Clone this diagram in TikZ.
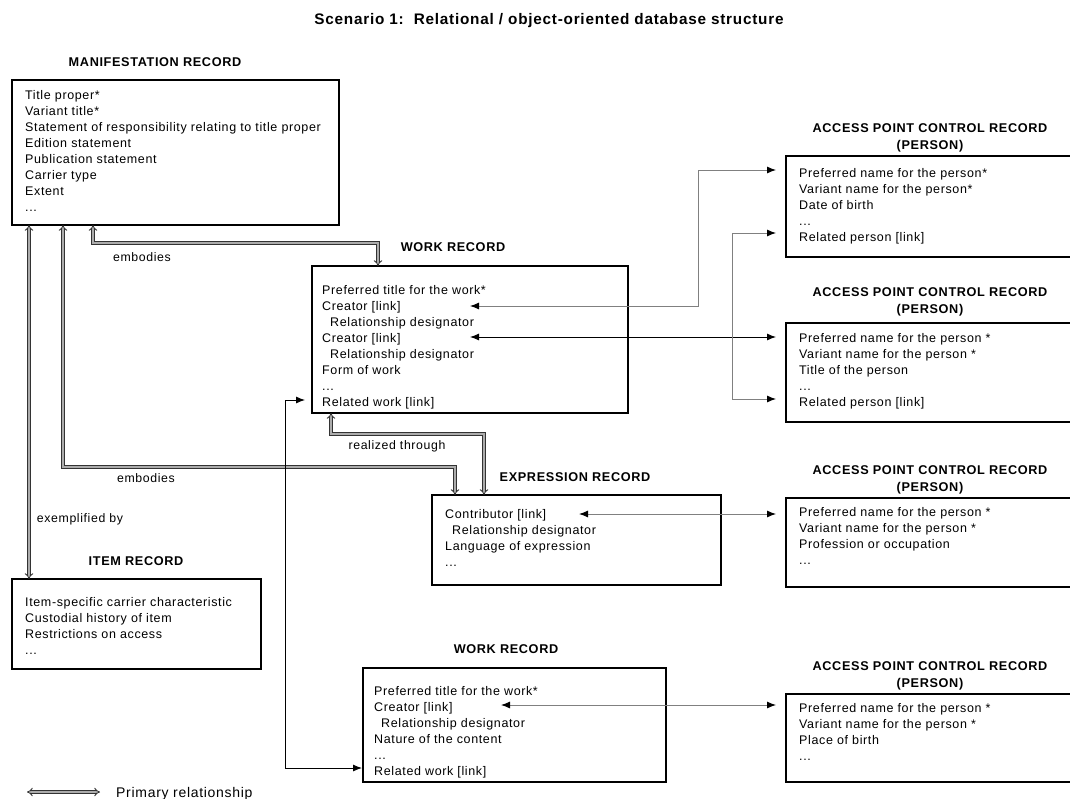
\documentclass[tikz,border=0pt]{standalone}
\usepackage{fontspec}
\setmainfont{Liberation Sans}[LetterSpace=5]
\usetikzlibrary{arrows.meta,calc}
\begin{document}
\begin{tikzpicture}[x=1pt,y=-1pt,
  box/.style={draw=black, line width=2pt, anchor=north west, inner sep=0pt, outer sep=0pt},
  txt/.style={anchor=north west, inner sep=0pt, align=left, font=\fontsize{12.5}{16}\selectfont},
  hdr/.style={inner sep=0pt, align=center, font=\fontsize{12.7}{17}\selectfont\bfseries},
  lbl/.style={inner sep=0pt, anchor=base, font=\fontsize{12.3}{15}\selectfont},
  prim/.style={draw=black!80, line width=0.9pt, double=gray!65, double distance=2pt, {Implies}-{Implies}},
  link/.style={line width=0.9pt, {Latex[length=9pt,width=7pt,color=black]}-{Latex[length=9pt,width=7pt,color=black]}},
  glink/.style={link, draw=black!50},
]
\useasboundingbox (0,0) rectangle (1070,799);
\clip (0,0) rectangle (1070,799);

% title
\node[hdr, anchor=base, font=\fontsize{15.3}{18}\selectfont\bfseries] (title) at (549,25) {Scenario 1:\ \ Relational / object-oriented database structure};

% headers
\node[hdr, anchor=base] (hman) at (155,66.5) {MANIFESTATION RECORD};
\node[hdr, anchor=base] (hwork1) at (453,251.5) {WORK RECORD};
\node[hdr, anchor=base] (hitem) at (136,565.5) {ITEM RECORD};
\node[hdr, anchor=base] (hexpr) at (575,481.5) {EXPRESSION RECORD};
\node[hdr, anchor=base] (hwork2) at (506,653.5) {WORK RECORD};
\node[hdr, anchor=north] (hap1) at (930,123.5) {ACCESS POINT CONTROL RECORD\\(PERSON)};
\node[hdr, anchor=north] (hap2) at (930,287.5) {ACCESS POINT CONTROL RECORD\\(PERSON)};
\node[hdr, anchor=north] (hap3) at (930,465.5) {ACCESS POINT CONTROL RECORD\\(PERSON)};
\node[hdr, anchor=north] (hap4) at (930,661.5) {ACCESS POINT CONTROL RECORD\\(PERSON)};

% boxes
\node[box, minimum width=327pt, minimum height=145pt] (man) at (12,80) {};
\node[box, minimum width=249pt, minimum height=90pt] (item) at (12,579) {};
\node[box, minimum width=316pt, minimum height=147pt] (work1) at (312,266) {};
\node[box, minimum width=289pt, minimum height=90pt] (expr) at (432,495) {};
\node[box, minimum width=303pt, minimum height=114pt] (work2) at (363,668) {};
\node[box, minimum width=320pt, minimum height=101pt] (ap1) at (786,156) {};
\node[box, minimum width=320pt, minimum height=99pt] (ap2) at (786,323) {};
\node[box, minimum width=320pt, minimum height=89pt] (ap3) at (786,498) {};
\node[box, minimum width=320pt, minimum height=88pt] (ap4) at (786,694) {};

% box contents
\node[txt] (tman) at (25,90.5) {Title proper*\\Variant title*\\Statement of responsibility relating to title proper\\Edition statement\\Publication statement\\Carrier type\\Extent\\...};
\node[txt] (titem) at (25,597.5) {Item-specific carrier characteristic\\Custodial history of item\\Restrictions on access\\...};
\node[txt] (twork1) at (322,285.5) {Preferred title for the work*\\Creator [link]\\\hspace*{8pt}Relationship designator\\Creator [link]\\\hspace*{8pt}Relationship designator\\Form of work\\...\\Related work [link]};
\node[txt] (texpr) at (445,509.5) {Contributor [link]\\\hspace*{7pt}Relationship designator\\Language of expression\\...};
\node[txt] (twork2) at (374,686.5) {Preferred title for the work*\\Creator [link]\\\hspace*{7pt}Relationship designator\\Nature of the content\\...\\Related work [link]};
\node[txt] (tap1) at (799,168.5) {Preferred name for the person*\\Variant name for the person*\\Date of birth\\...\\Related person [link]};
\node[txt] (tap2) at (799,333.5) {Preferred name for the person *\\Variant name for the person *\\Title of the person\\...\\Related person [link]};
\node[txt] (tap3) at (799,507.5) {Preferred name for the person *\\Variant name for the person *\\Profession or occupation\\...};
\node[txt] (tap4) at (799,703.5) {Preferred name for the person *\\Variant name for the person *\\Place of birth\\...};

% primary relationships
\draw[prim] ($(man.south west)+(81,0)$) |- ($(work1.north west)+(66,-23)$) -- ($(work1.north west)+(66,0)$);
\draw[prim] ($(man.south west)+(51,0)$) |- ($(expr.north west)+(23,-28)$) -- ($(expr.north west)+(23,0)$);
\draw[prim] ($(man.south west)+(17,0)$) -- ($(item.north west)+(17,0)$);
\draw[prim] ($(work1.south west)+(19,0)$) |- ($(expr.north west)+(52,-61)$) -- ($(expr.north west)+(52,0)$);

\node[lbl] (lemb1) at (142,261.3) {embodies};
\node[lbl] (lemb2) at (146,482.3) {embodies};
\node[lbl] (lexe) at (80,522.3) {exemplified by};
\node[lbl] (lreal) at (397,449.3) {realized through};

% links
\draw[glink] ($(work1.north west)+(158,40)$) -| ($(ap1.north west)+(-88,14)$) -- ($(ap1.north west)+(-10,14)$);
\draw[link] ($(work1.north west)+(158,71)$) -- ($(ap2.north west)+(-10,14)$);
\draw[glink] ($(ap1.north west)+(-10,77)$) -- ++(-44,0) |- ($(ap2.north west)+(-10,76)$);
\draw[link] ($(work1.north west)+(-7,134)$) -- ++(-20,0) |- ($(work2.north west)+(-1,100)$);
\draw[glink] ($(expr.north west)+(147,19)$) -- ($(ap3.north west)+(-10,16)$);
\draw[glink] ($(work2.north west)+(138,37)$) -- ($(ap4.north west)+(-10,11)$);

% legend
\coordinate (lg1) at (27,792);
\coordinate (lg2) at (100,792);
\draw[prim] (lg1) -- (lg2);
\node[inner sep=0pt, anchor=base west, font=\fontsize{14}{16}\selectfont] (lgt) at (116,797) {Primary relationship};
\end{tikzpicture}
\end{document}
